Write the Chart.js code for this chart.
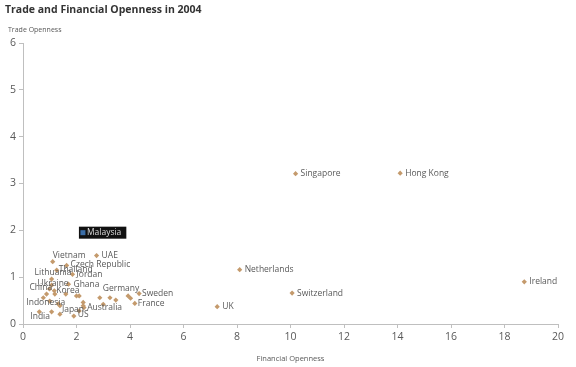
<!DOCTYPE html>
<html>
<head>
<meta charset="utf-8">
<script src="https://cdn.jsdelivr.net/npm/chart.js@4.4.1/dist/chart.umd.min.js"></script>
<style>
  html, body { margin: 0; padding: 0; background: #fff; }
  #wrap { width: 576px; height: 367px; position: relative; }
</style>
</head>
<body>
<div id="wrap"><canvas id="chart"></canvas></div>
<script>
// Labelled countries: financial openness (x) and trade openness (y)
const countries = ['Vietnam', 'UAE', 'Czech Republic', 'Thailand', 'Lithuania', 'Jordan', 'Ukraine', 'Ghana',
  'China', 'Korea', 'Germany', 'Sweden', 'France', 'Australia', 'Japan', 'US', 'India', 'Indonesia',
  'Netherlands', 'Switzerland', 'UK', 'Singapore', 'Hong Kong', 'Ireland'];
const finOpen = [1.11, 2.75, 1.63, 1.26, 1.07, 1.85, 1.07, 1.70,
  0.99, 1.17, 2.87, 4.34, 4.18, 2.25, 1.38, 1.90, 0.61, 1.32,
  8.10, 10.06, 7.26, 10.19, 14.10, 18.74];
const tradeOpen = [1.33, 1.46, 1.25, 1.15, 0.96, 1.06, 0.83, 0.85,
  0.75, 0.71, 0.56, 0.65, 0.44, 0.39, 0.21, 0.17, 0.26, 0.43,
  1.16, 0.66, 0.37, 3.21, 3.22, 0.90];

// Unlabelled countries in the cluster
const otherFin = [2.00, 2.10, 3.25, 3.47, 3.93, 4.02, 2.28, 3.00, 1.07, 1.19, 0.76, 0.88, 1.38, 1.00, 2.25, 2.10, 1.60];
const otherTrade = [0.60, 0.60, 0.56, 0.51, 0.60, 0.55, 0.35, 0.42, 0.26, 0.64, 0.56, 0.64, 0.39, 0.49, 0.46, 0.28, 0.64];

// Highlighted point
const highlightName = 'Malaysia';
const highlightFin = 2.24;
const highlightTrade = 1.95;

const xTicks = [0, 2, 4, 6, 8, 10, 12, 14, 16, 18, 20];
const yTicks = [0, 1, 2, 3, 4, 5, 6];

// label placement relative to its point (pixels): [dx to text start, dy]
const labelShift = {
  'Vietnam': [0, -6], 'UAE': [5, 0], 'Czech Republic': [4, -1], 'Thailand': [2, -1],
  'Lithuania': [-17, -6], 'Jordan': [4, 0], 'Ukraine': [-14, -2], 'Ghana': [5, 0],
  'China': [-20, -1], 'Korea': [2, 0], 'Germany': [3, -9], 'Sweden': [3, 0], 'France': [3, 0],
  'Australia': [4, 2], 'Japan': [2, -5], 'US': [4, -1], 'India': [-9, 5], 'Indonesia': [-32, -1]
};

const markerColor = '#c49a6c';
const textColor = '#595959';
const axisColor = '#bfbfbf';
const fontFamily = "'Open Sans', 'Noto Sans', sans-serif";

const mainPoints = finOpen.map((x, i) => ({ x: x, y: tradeOpen[i], name: countries[i] }));
const otherPoints = otherFin.map((x, i) => ({ x: x, y: otherTrade[i] }));

const textPlugin = {
  id: 'textPlugin',
  afterDatasetsDraw(chart) {
    const ctx = chart.ctx;
    ctx.save();
    // title and y-axis title
    ctx.fillStyle = '#333';
    ctx.font = "bold 10.5px " + fontFamily;
    ctx.textBaseline = 'middle';
    ctx.textAlign = 'left';
    ctx.fillText('Trade and Financial Openness in 2004', 5, 10);
    ctx.fillStyle = textColor;
    ctx.font = "7px " + fontFamily;
    ctx.fillText('Trade Openness', 8, 30);

    // data labels
    ctx.font = "8.5px " + fontFamily;
    ctx.fillStyle = textColor;
    const meta = chart.getDatasetMeta(1);
    meta.data.forEach((pt, i) => {
      const name = countries[i];
      const s = labelShift[name] || [5, 0];
      ctx.fillText(name, pt.x + s[0], pt.y + s[1]);
    });

    // highlighted label box
    const hm = chart.getDatasetMeta(2).data[0];
    ctx.font = "8.5px " + fontFamily;
    const w = ctx.measureText(highlightName).width;
    ctx.fillStyle = '#111';
    ctx.fillRect(hm.x - 4, hm.y - 6, w + 13, 12);
    ctx.fillStyle = '#3b6ea8';
    ctx.fillRect(hm.x - 2.5, hm.y - 2.5, 5, 5);
    ctx.fillStyle = '#ddd';
    ctx.fillText(highlightName, hm.x + 4, hm.y);
    ctx.restore();
  }
};

new Chart(document.getElementById('chart'), {
  type: 'scatter',
  data: {
    datasets: [
      {
        data: otherPoints,
        pointStyle: 'rectRot',
        pointRadius: 2.6,
        backgroundColor: markerColor,
        borderColor: markerColor,
        borderWidth: 0
      },
      {
        data: mainPoints,
        pointStyle: 'rectRot',
        pointRadius: 2.6,
        backgroundColor: markerColor,
        borderColor: markerColor,
        borderWidth: 0
      },
      {
        data: [{ x: highlightFin, y: highlightTrade }],
        pointRadius: 0
      }
    ]
  },
  options: {
    responsive: true,
    maintainAspectRatio: false,
    animation: false,
    layout: { padding: { top: 43, right: 18, left: 0, bottom: 0 } },
    plugins: {
      legend: { display: false },
      tooltip: { enabled: false }
    },
    scales: {
      x: {
        type: 'linear',
        min: 0,
        max: 20,
        afterBuildTicks: s => { s.ticks = xTicks.map(v => ({ value: v })); },
        afterFit: s => { s.height = 43; },
        border: { color: axisColor, width: 1 },
        grid: { drawOnChartArea: false, color: axisColor, tickLength: 4 },
        ticks: { color: textColor, font: { family: fontFamily, size: 10.5 }, padding: 3, maxRotation: 0 },
        title: { display: true, text: 'Financial Openness', color: textColor, font: { family: fontFamily, size: 7.5 }, padding: { top: 4 } }
      },
      y: {
        type: 'linear',
        min: 0,
        max: 6,
        afterBuildTicks: s => { s.ticks = yTicks.map(v => ({ value: v })); },
        afterFit: s => { s.width = 23; },
        border: { color: axisColor, width: 1 },
        grid: { drawOnChartArea: false, color: axisColor, tickLength: 4 },
        ticks: { color: textColor, font: { family: fontFamily, size: 10.5 }, padding: 3 }
      }
    }
  },
  plugins: [textPlugin]
});
</script>
</body>
</html>
